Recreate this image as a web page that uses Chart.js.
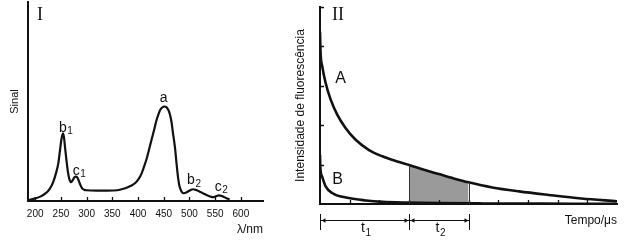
<!DOCTYPE html>
<html><head><meta charset="utf-8">
<script src="https://cdn.jsdelivr.net/npm/chart.js@4.4.1/dist/chart.umd.min.js"></script>
<style>
html,body{margin:0;padding:0;background:#fff;width:626px;height:245px;overflow:hidden}
#w1{position:absolute;left:0;top:0;width:280px;height:245px}
#w2{position:absolute;left:280px;top:0;width:346px;height:245px}
</style></head><body>
<div id="w1"><canvas id="c1"></canvas></div>
<div id="w2"><canvas id="c2"></canvas></div>
<script>
// ---------- Panel I : spectrum ----------
const spectrumNm = [187,200,210,220,228,235,241,245,248,251,254,256,258,261,264,267,270,273,276,279,282,285,288,291,295,300,320,340,360,375,385,394,401,407,412,417,422,427,432,436,440,443,447,451,455,459,462,465,468,472,475,478,481,485,489,494,500,507,513,520,527,533,540,546,551,557,562,567,573,578];
const spectrumSignal = [0.5,1.3,2.2,3.8,6.0,9.5,14.5,19,25,31,34,32,27,20,14,10.5,9.5,10.5,11.8,12.2,11.8,10,8,6.5,5.7,5.4,5.2,5.2,5.4,6.4,7.5,8.9,11,13.9,17.5,21.5,26.5,31.5,36.5,40.7,43.8,45.7,47,47.5,47.2,45.7,43.5,39.8,34,26.5,18.5,11.4,7,4.6,3.9,4.3,5.2,5.9,5.5,4.7,3.8,3.0,2.3,1.9,2.3,2.8,2.6,2.0,1.3,0.8];
const nmTicks = [200,250,300,350,400,450,500,550,600];
const nmRange = [186, 643];
const signalRange = [0, 100];
const peakNames = ['a','b','c','b','c'];
const peakSubs = ['','1','1','2','2'];
const peakLabelNm = [450, 254, 280, 503, 556];
const peakLabelSignal = [49.5, 34.8, 13.1, 8.5, 5.2];

// ---------- Panel II : decay ----------
const timeA = [0,0.02,0.075,0.19,0.36,0.58,0.86,1.2,1.65,2.1,2.6,3.0,3.5,4.0,4.5,5.0,5.8,6.7,7.7,8.8,10];
const intensityA = [4.37,3.83,3.5,3.07,2.65,2.27,1.93,1.63,1.37,1.21,1.08,0.99,0.87,0.76,0.65,0.55,0.42,0.32,0.23,0.14,0.07];
const timeB = [0,0.01,0.07,0.19,0.41,0.97,1.54,2.1,2.9,4,5.5,7,8.5,10];
const intensityB = [1.25,0.95,0.70,0.45,0.28,0.15,0.09,0.055,0.035,0.022,0.014,0.01,0.006,0.004];
const timeRange = [0, 10];
const intensityRange = [0, 5];
const timeTicks = [1,2,3,4,5,6,7,8,9];
const intensityTicks = [1,2,3,4,5];
const shadeRange = [3, 5];
const intervalBounds = [0, 3, 5];
const intervalNames = ['t','t'];
const intervalSubs = ['1','2'];
const curveNames = ['A','B'];
const curveLabelT = [0.69, 0.59];
const curveLabelV = [3.06, 0.52];

const INK = '#111';
const SANS = "'Liberation Sans', Arial, sans-serif";
const SERIF = "'Liberation Serif', 'Times New Roman', serif";
Chart.defaults.font.family = SANS;
Chart.defaults.color = INK;

function subText(ctx, main, sub, cx, baseline, mainSize, subSize, subDrop) {
  ctx.font = mainSize + 'px ' + SANS;
  const wm = ctx.measureText(main).width;
  ctx.textAlign = 'left'; ctx.textBaseline = 'alphabetic';
  ctx.fillText(main, cx - wm / 2, baseline);
  if (sub) {
    ctx.font = subSize + 'px ' + SANS;
    ctx.fillText(sub, cx + wm / 2 + 0.5, baseline + subDrop);
  }
}

const deco1 = {
  id: 'deco1',
  afterDraw(chart) {
    const {ctx, chartArea: ca, scales: {x, y}} = chart;
    ctx.save();
    ctx.strokeStyle = INK; ctx.lineWidth = 1.3;
    ctx.beginPath();
    nmTicks.forEach(v => { const px = Math.round(x.getPixelForValue(v)) + 0.5; ctx.moveTo(px, ca.bottom); ctx.lineTo(px, ca.bottom - 4); });
    ctx.stroke();
    ctx.fillStyle = INK;
    peakNames.forEach((n, i) => {
      subText(ctx, n, peakSubs[i], x.getPixelForValue(peakLabelNm[i]), y.getPixelForValue(peakLabelSignal[i]), 14, 10, 2.5);
    });
    ctx.font = '18px ' + SERIF; ctx.textAlign = 'center'; ctx.textBaseline = 'alphabetic';
    ctx.fillText('I', ca.left + 12, ca.top + 18);
    ctx.restore();
  }
};

new Chart(document.getElementById('c1'), {
  type: 'line',
  data: { datasets: [{
    data: spectrumNm.map((v, i) => ({x: v, y: spectrumSignal[i]})),
    borderColor: INK, borderWidth: 2.2, pointRadius: 0, fill: false,
    cubicInterpolationMode: 'monotone'
  }]},
  options: {
    responsive: true, maintainAspectRatio: false, animation: false, devicePixelRatio: 1,
    layout: { padding: { top: 2, right: 17, bottom: 0, left: 0 } },
    plugins: { legend: {display: false}, tooltip: {enabled: false} },
    scales: {
      x: {
        type: 'linear', min: nmRange[0], max: nmRange[1],
        afterBuildTicks: s => { s.ticks = nmTicks.map(v => ({value: v})); },
        afterFit: s => { s.height = 44; },
        grid: { display: true, drawOnChartArea: false, drawTicks: false },
        border: { display: true, color: INK, width: 2, z: 1 },
        ticks: { padding: 7.5, font: {size: 10}, color: INK, autoSkip: false, maxRotation: 0, callback: v => String(v) },
        title: { display: true, text: 'λ/nm', align: 'end', color: INK, font: {size: 12}, padding: {top: 0, bottom: 8} }
      },
      y: {
        type: 'linear', min: signalRange[0], max: signalRange[1],
        afterFit: s => { s.width = 28; },
        grid: { display: true, drawOnChartArea: false, drawTicks: false },
        border: { display: true, color: INK, width: 2, z: 1 },
        ticks: { display: false },
        title: { display: true, text: 'Sinal', color: INK, font: {size: 11}, padding: {top: 8.4, bottom: 0} }
      }
    }
  },
  plugins: [deco1]
});

const deco2 = {
  id: 'deco2',
  afterDraw(chart) {
    const {ctx, chartArea: ca, scales: {x, y}} = chart;
    ctx.save();
    ctx.strokeStyle = INK; ctx.fillStyle = INK;
    ctx.lineWidth = 1.3;
    ctx.beginPath();
    timeTicks.forEach(v => { const px = Math.round(x.getPixelForValue(v)) + 0.5; ctx.moveTo(px, ca.bottom); ctx.lineTo(px, ca.bottom - 4); });
    intensityTicks.forEach(v => { const py = Math.round(y.getPixelForValue(v)) + 0.5; ctx.moveTo(ca.left, py); ctx.lineTo(ca.left + 4, py); });
    ctx.stroke();
    ctx.lineWidth = 1; ctx.strokeStyle = '#333';
    ctx.beginPath();
    shadeRange.forEach(t => {
      const px = Math.round(x.getPixelForValue(t)) + 0.5;
      const v = intensityA[timeA.indexOf(t)];
      ctx.moveTo(px, y.getPixelForValue(0)); ctx.lineTo(px, y.getPixelForValue(v));
    });
    ctx.stroke();
    ctx.strokeStyle = INK; ctx.lineWidth = 1;
    const yl = ca.bottom + 16.5;
    const xs = intervalBounds.map(t => Math.round(x.getPixelForValue(t)) + 0.5);
    ctx.beginPath();
    xs.forEach(px => { ctx.moveTo(px, ca.bottom + 10); ctx.lineTo(px, ca.bottom + 26); });
    ctx.moveTo(xs[0], yl); ctx.lineTo(xs[xs.length - 1], yl);
    ctx.stroke();
    for (let i = 0; i < xs.length - 1; i++) {
      const a = xs[i], b = xs[i + 1];
      ctx.beginPath();
      ctx.moveTo(a + 1, yl); ctx.lineTo(a + 5, yl - 2.2); ctx.lineTo(a + 5, yl + 2.2); ctx.closePath();
      ctx.moveTo(b - 1, yl); ctx.lineTo(b - 5, yl - 2.2); ctx.lineTo(b - 5, yl + 2.2); ctx.closePath();
      ctx.fill();
      subText(ctx, intervalNames[i], intervalSubs[i], (a + b) / 2 - 2, ca.bottom + 28, 14, 10, 4);
    }
    curveNames.forEach((n, i) => {
      ctx.font = '16px ' + SANS; ctx.textAlign = 'center'; ctx.textBaseline = 'alphabetic';
      ctx.fillText(n, x.getPixelForValue(curveLabelT[i]), y.getPixelForValue(curveLabelV[i]));
    });
    ctx.font = '18px ' + SERIF; ctx.textAlign = 'center'; ctx.textBaseline = 'alphabetic';
    ctx.fillText('II', ca.left + 18, ca.top + 13);
    ctx.restore();
  }
};

const shadeT = timeA.filter(t => t >= shadeRange[0] && t <= shadeRange[1]);
new Chart(document.getElementById('c2'), {
  type: 'line',
  data: { datasets: [
    { data: timeA.map((t, i) => ({x: t, y: intensityA[i]})), borderColor: INK, borderWidth: 2.6, pointRadius: 0, fill: false, cubicInterpolationMode: 'monotone' },
    { data: timeB.map((t, i) => ({x: t, y: intensityB[i]})), borderColor: INK, borderWidth: 2.6, pointRadius: 0, fill: false, cubicInterpolationMode: 'monotone' },
    { data: shadeT.map(t => ({x: t, y: intensityA[timeA.indexOf(t)]})), borderWidth: 0, borderColor: 'rgba(0,0,0,0)', backgroundColor: '#9a9a9a', pointRadius: 0, fill: 'origin', cubicInterpolationMode: 'monotone' }
  ]},
  options: {
    responsive: true, maintainAspectRatio: false, animation: false, devicePixelRatio: 1,
    layout: { padding: { top: 7, right: 9, bottom: 0, left: 0 } },
    plugins: { legend: {display: false}, tooltip: {enabled: false} },
    scales: {
      x: {
        type: 'linear', min: timeRange[0], max: timeRange[1],
        afterFit: s => { s.height = 41; },
        grid: { display: true, drawOnChartArea: false, drawTicks: false },
        border: { display: true, color: INK, width: 2, z: 1 },
        ticks: { display: false },
        title: { display: true, text: 'Tempo/μs', align: 'end', color: INK, font: {size: 12}, padding: {top: 0, bottom: 16.8} }
      },
      y: {
        type: 'linear', min: intensityRange[0], max: intensityRange[1],
        afterFit: s => { s.width = 40; },
        grid: { display: true, drawOnChartArea: false, drawTicks: false },
        border: { display: true, color: INK, width: 2, z: 1 },
        ticks: { display: false },
        title: { display: true, text: 'Intensidade de fluorescência', color: INK, font: {size: 12}, padding: {top: 13.8, bottom: 0} }
      }
    }
  },
  plugins: [deco2]
});
</script>
</body></html>
